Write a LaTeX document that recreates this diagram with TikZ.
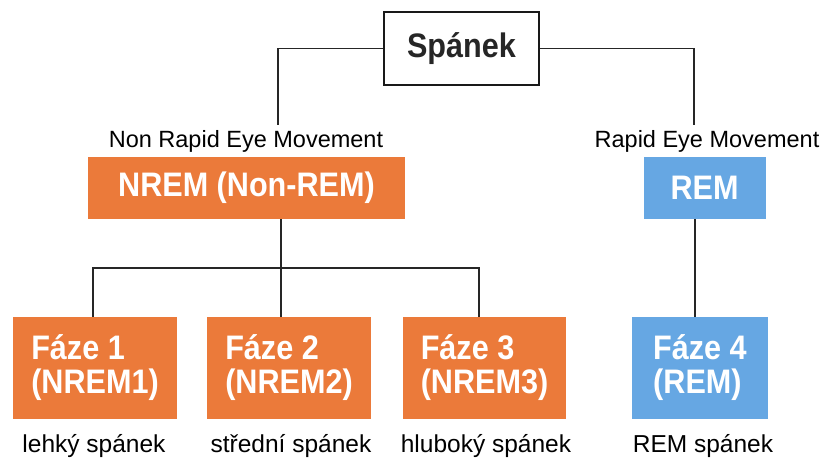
\documentclass[tikz,border=0pt]{standalone}
\usepackage{fontspec}
\setmainfont{Liberation Sans}
\newfontfamily\condf[FakeStretch=0.9]{Liberation Sans}
\definecolor{orng}{RGB}{235,122,58}
\definecolor{blu}{RGB}{102,167,227}
\tikzset{
  bigtxt/.style={font=\condf\bfseries\fontsize{34}{34}\selectfont},
  box/.style={inner sep=0pt, text=white, bigtxt, align=center},
  obox/.style={box, fill=orng},
  bbox/.style={box, fill=blu},
  fbox/.style={minimum height=102pt, align=left},
  lbl/.style={font=\fontsize{23.5}{26}\selectfont, anchor=base, inner sep=0pt},
  lblb/.style={font=\fontsize{24.5}{26}\selectfont, anchor=base, inner sep=0pt},
  conn/.style={line width=1.6pt, draw=black!85},
}
\begin{document}
\begin{tikzpicture}[x=1pt,y=-1pt]
\useasboundingbox (0,0) rectangle (823,459);
\node[draw=black!90, line width=2pt, minimum width=155pt, minimum height=73pt, inner sep=0pt, bigtxt, text=black!85] (sp) at (461.5,48.5) {Spánek};
\node[lbl] (nremlbl) at (246,147) {Non Rapid Eye Movement};
\node[lbl] (remlbl) at (707,147) {Rapid Eye Movement};
\node[obox, minimum width=317pt, minimum height=62pt] (nrem) at (246.5,188) {NREM (Non-REM)};
\node[bbox, minimum width=122pt, minimum height=62pt] (rem) at (704.5,188) {REM};
\node[obox, fbox, minimum width=164pt] (f1) at (95,368) {Fáze 1\\(NREM1)};
\node[obox, fbox, minimum width=164pt] (f2) at (289,368) {Fáze 2\\(NREM2)};
\node[obox, fbox, minimum width=163pt] (f3) at (484.5,368) {Fáze 3\\(NREM3)};
\node[bbox, fbox, minimum width=136pt] (f4) at (700,368) {Fáze 4\\(REM)};
\node[lblb] (l1) at (94,452) {lehký spánek};
\node[lblb] (l2) at (291,452) {střední spánek};
\node[lblb] (l3) at (486,452) {hluboký spánek};
\node[lblb] (l4) at (703,452) {REM spánek};
\coordinate (nremtop) at (278,125);
\coordinate (remtop) at (694,125);
\draw[conn] (sp.west) -| (nremtop);
\draw[conn] (sp.east) -| (remtop);
\coordinate (bus) at (281,268);
\coordinate (b1) at (93,268);
\coordinate (b3) at (479,268);
\coordinate (rx) at (695,0);
\draw[conn] (nrem.south -| bus) -- (f2.north -| bus);
\draw[conn] (b1 |- f1.north) -- (b1) -- (b3) -- (b3 |- f3.north);
\draw[conn] (rem.south -| rx) -- (f4.north -| rx);
\end{tikzpicture}
\end{document}
